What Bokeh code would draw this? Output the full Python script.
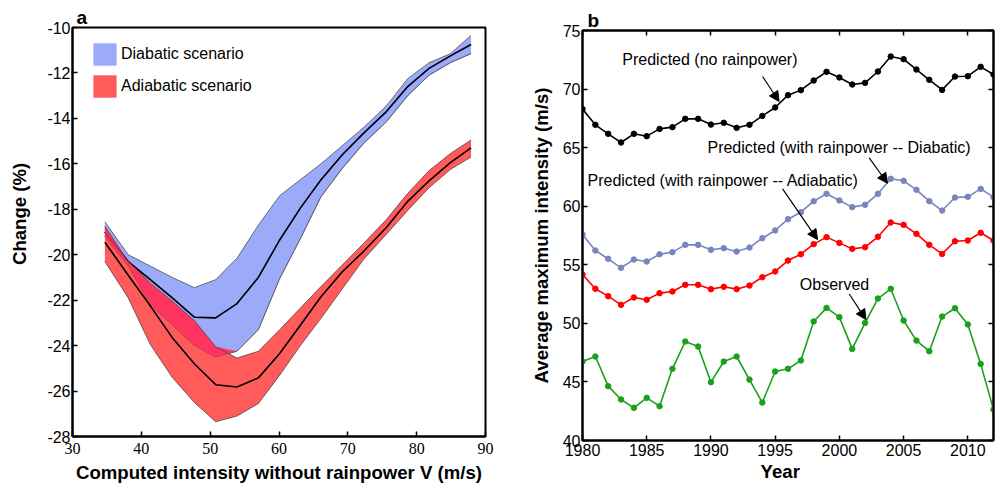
import numpy as np
from bokeh.plotting import figure
from bokeh.models import (Range1d, Label, Arrow, NormalHead, Legend, LegendItem,
                          LinearAxis, FixedTicker)
from bokeh.layouts import row
from bokeh.embed import file_html
from bokeh.resources import INLINE

# ---------------- Panel a data ----------------
v_x = [34.7, 38.1, 41.3, 44.5, 47.7, 50.8, 53.9, 57.0, 60.1, 63.1, 66.1, 69.2,
       72.3, 75.6, 78.7, 81.8, 84.9, 87.9]
dia_top = [-18.55, -20.0, -20.5, -21.0, -21.45, -21.1, -20.15, -18.7, -17.4, -16.7,
           -16.0, -15.2, -14.4, -13.45, -12.25, -11.55, -11.15, -10.35]
dia_mean = [-19.0, -20.3, -21.1, -21.9, -22.75, -22.78, -22.15, -21.0, -19.35, -17.95,
            -16.7, -15.6, -14.65, -13.7, -12.6, -11.8, -11.25, -10.75]
dia_bot = [-19.2, -20.5, -22.2, -23.1, -24.0, -24.5, -24.25, -23.3, -21.05, -19.3,
           -17.45, -16.2, -15.1, -14.15, -13.0, -12.1, -11.55, -11.15]
adi_top = [-18.75, -20.3, -21.25, -22.05, -22.9, -24.05, -24.55, -24.25, -23.3, -22.35,
           -21.4, -20.45, -19.5, -18.45, -17.3, -16.3, -15.55, -14.95]
adi_mean = [-19.45, -20.9, -22.25, -23.65, -24.8, -25.72, -25.82, -25.42, -24.35, -23.1,
            -21.85, -20.75, -19.85, -18.8, -17.65, -16.75, -15.95, -15.3]
adi_bot = [-20.3, -21.9, -23.95, -25.4, -26.5, -27.35, -27.1, -26.55, -25.3, -24.0,
           -22.8, -21.5, -20.2, -19.1, -18.05, -17.05, -16.25, -15.7]
a_xticks = [30, 40, 50, 60, 70, 80, 90]
a_yticks = [-28, -26, -24, -22, -20, -18, -16, -14, -12, -10]

# ---------------- Panel b data ----------------
years = list(range(1980, 2013))
no_rain = [68.3, 66.95, 66.18, 65.44, 66.18, 65.98, 66.6, 66.75, 67.46, 67.46, 66.97,
           67.12, 66.69, 66.95, 67.71, 68.43, 69.48, 69.91, 70.73, 71.47, 70.99, 70.39,
           70.53, 71.5, 72.78, 72.55, 71.67, 70.79, 69.93, 71.07, 71.1, 71.9, 71.24]
diabatic = [57.58, 56.22, 55.51, 54.74, 55.45, 55.28, 55.9, 56.08, 56.7, 56.7, 56.28,
            56.42, 56.13, 56.47, 57.27, 57.93, 58.89, 59.49, 60.43, 61.06, 60.49, 59.92,
            60.12, 61.06, 62.34, 62.17, 61.4, 60.43, 59.63, 60.74, 60.8, 61.48, 60.77]
adiabatic = [54.17, 52.95, 52.32, 51.58, 52.21, 52.01, 52.58, 52.72, 53.29, 53.29, 52.92,
             53.12, 52.92, 53.23, 53.94, 54.43, 55.36, 55.9, 56.76, 57.36, 56.87, 56.36,
             56.5, 57.39, 58.61, 58.41, 57.64, 56.7, 55.93, 57.01, 57.07, 57.73, 57.07]
observed = [46.74, 47.17, 44.64, 43.5, 42.79, 43.64, 42.93, 46.12, 48.45, 48.02, 44.98,
            46.74, 47.17, 45.2, 43.24, 45.89, 46.12, 46.83, 50.16, 51.32, 50.53, 47.82,
            50.04, 52.12, 52.95, 50.24, 48.53, 47.62, 50.58, 51.29, 49.9, 46.54, 42.64]
b_xticks = [1980, 1985, 1990, 1995, 2000, 2005, 2010]
b_yticks = [40, 45, 50, 55, 60, 65, 70, 75]

SANS = "Liberation Sans"
SERIF = "Liberation Serif"
TITLE_SIZE = "18.6px"


def style_axis(ax, font, standoff):
    ax.axis_line_width = 2
    ax.axis_line_color = "black"
    ax.major_tick_in = 5
    ax.major_tick_out = 0
    ax.major_tick_line_width = 1.5
    ax.major_tick_line_color = "black"
    ax.minor_tick_line_color = None
    ax.major_label_text_font = font
    ax.major_label_text_font_size = "16px"
    ax.major_label_text_color = "black"
    ax.major_label_standoff = standoff
    ax.axis_label_text_font = SANS
    ax.axis_label_text_font_size = TITLE_SIZE
    ax.axis_label_text_font_style = "bold"
    ax.axis_label_text_color = "black"


def bare_axis(ticks):
    ax = LinearAxis(ticker=FixedTicker(ticks=ticks))
    style_axis(ax, SANS, 0)
    ax.major_label_text_font_size = "0px"
    ax.major_label_text_color = None
    return ax


def panel_letter(p, letter, offset, standoff):
    p.title.text = letter
    p.title.align = "left"
    p.title.offset = offset
    p.title.standoff = standoff
    p.title.text_font = SANS
    p.title.text_font_size = "19px"
    p.title.text_font_style = "bold"
    p.title.text_color = "black"


# ---------------- Panel a ----------------
p1 = figure(width=513, height=485, output_backend="svg", toolbar_location=None,
            x_range=Range1d(30, 90), y_range=Range1d(-28, -10), frame_align=False,
            min_border_left=72, min_border_right=28, min_border_top=27, min_border_bottom=47)
p1.grid.visible = False
p1.outline_line_color = "black"
p1.outline_line_width = 2

xs = np.array(v_x)
blue_area = p1.varea(x=xs, y1=dia_bot, y2=dia_top, fill_color="#9CAAFA")
p1.line(xs, dia_top, line_color="#4d4d55", line_width=0.8)
p1.line(xs, dia_bot, line_color="#4d4d55", line_width=0.8)
p1.line(xs, dia_mean, line_color="black", line_width=1.6)
red_area = p1.varea(x=xs, y1=adi_bot, y2=adi_top, fill_color="#FF5B5B")
lo = np.maximum(np.array(dia_bot), np.array(adi_bot))
hi = np.minimum(np.array(dia_top), np.array(adi_top))
hi = np.maximum(hi, lo)
p1.varea(x=xs, y1=lo, y2=hi, fill_color="#FF3560")
p1.line(xs, adi_top, line_color="#5a4040", line_width=0.8)
p1.line(xs, adi_bot, line_color="#5a4040", line_width=0.8)
p1.line(xs, dia_bot, line_color="#5a4040", line_width=0.6, line_alpha=0.7)
p1.line(xs, dia_mean, line_color="black", line_width=1.2, line_alpha=0.3)
p1.line(xs, adi_mean, line_color="black", line_width=1.6)

p1.xaxis.ticker = FixedTicker(ticks=a_xticks)
p1.yaxis.ticker = FixedTicker(ticks=a_yticks)
p1.yaxis.major_label_overrides = {t: str(t) for t in a_yticks}
style_axis(p1.xaxis[0], SERIF, 6)
style_axis(p1.yaxis[0], SANS, 2)
p1.xaxis.axis_label = "Computed intensity without rainpower V (m/s)"
p1.xaxis.axis_label_standoff = 5
p1.yaxis.axis_label = "\u00a0" * 7 + "Change (%)"
p1.yaxis.axis_label_standoff = 14

panel_letter(p1, "a", 4, 0)

legend = Legend(items=[LegendItem(label="Diabatic scenario", renderers=[blue_area]),
                       LegendItem(label="Adiabatic scenario", renderers=[red_area])],
                location=(18, 336), glyph_width=29, glyph_height=28, label_height=28,
                label_standoff=2, spacing=4, padding=0, margin=0,
                border_line_color=None, background_fill_alpha=0,
                label_text_font=SANS, label_text_font_size="16px", label_text_color="black")
p1.add_layout(legend)

# ---------------- Panel b ----------------
p2 = figure(width=486, height=485, output_backend="svg", toolbar_location=None,
            x_range=Range1d(1980, 2012), y_range=Range1d(40, 75), frame_align=False,
            min_border_left=69, min_border_right=6, min_border_top=30, min_border_bottom=45)
p2.grid.visible = False
p2.outline_line_color = "black"
p2.outline_line_width = 2

series = [(no_rain, "#000000"), (diabatic, "#7A84BF"), (adiabatic, "#FF0000"),
          (observed, "#1AA11A")]
for vals, col in series:
    p2.line(years, vals, line_color=col, line_width=1.6)
    p2.scatter(years, vals, size=5.5, fill_color=col, line_color=col)

p2.xaxis.ticker = FixedTicker(ticks=b_xticks)
p2.yaxis.ticker = FixedTicker(ticks=b_yticks)
style_axis(p2.xaxis[0], SANS, 3)
style_axis(p2.yaxis[0], SANS, 2)
p2.xaxis.axis_label = "Year" + "\u00a0" * 3
p2.xaxis.axis_label_standoff = 2
p2.yaxis.axis_label = "Average maximum intensity (m/s)"
p2.yaxis.axis_label_standoff = 8

p2.add_layout(bare_axis(b_yticks), "right")
p2.add_layout(bare_axis(b_xticks), "above")

panel_letter(p2, "b", 5, 0)

annots = [
    ("Predicted (no rainpower)", 1983.1, 72.5, (1994.02, 71.07, 1995.31, 68.94)),
    ("Predicted (with rainpower -- Diabatic)", 1989.73, 64.98, (2002.32, 64.13, 2003.75, 61.96)),
    ("Predicted (with rainpower -- Adiabatic)", 1980.39, 62.16, (1995.58, 61.48, 1998.3, 57.15)),
    ("Observed", 1996.92, 53.28, (2000.77, 52.51, 2002.07, 50.32)),
]
for txt, tx, ty, (xs0, ys0, xe, ye) in annots:
    p2.add_layout(Label(x=tx, y=ty, text=txt, text_align="left", text_baseline="middle",
                        text_font=SANS, text_font_size="16px", text_color="black"))
    p2.add_layout(Arrow(end=NormalHead(size=10, fill_color="black", line_color="black",
                                       line_width=1),
                        x_start=xs0, y_start=ys0, x_end=xe, y_end=ye,
                        line_color="black", line_width=1.2))

layout = row(p1, p2)
open("out.html", "w").write(file_html(layout, INLINE))
